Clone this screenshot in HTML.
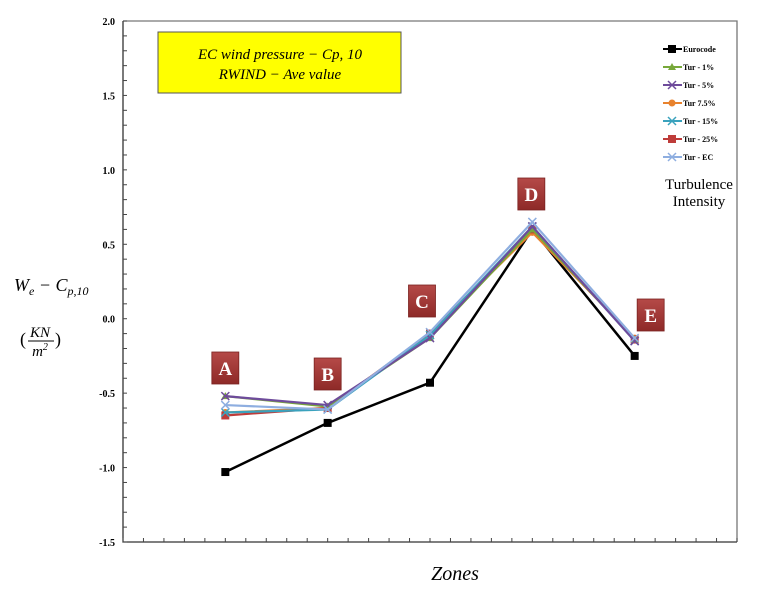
<!DOCTYPE html>
<html><head><meta charset="utf-8"><style>
body{margin:0;background:#fff;width:760px;height:592px;overflow:hidden}
svg text{font-family:"Liberation Serif",serif}
</style></head><body>
<svg id="chart" width="760" height="592" xmlns="http://www.w3.org/2000/svg">
<defs>
<linearGradient id="lg" x1="0" y1="0" x2="0" y2="1"><stop offset="0" stop-color="#b54a48"/><stop offset="1" stop-color="#8e2a28"/></linearGradient>
</defs>
<g id="axes"></g>
<g id="series"></g>
<g id="labels"></g>
<rect x="158" y="32" width="243" height="61" fill="#ffff00" stroke="#555" stroke-width="1"/>
<text x="280" y="59" text-anchor="middle" font-size="15" font-style="italic">EC wind pressure  − Cp, 10</text>
<text x="280" y="79" text-anchor="middle" font-size="15" font-style="italic">RWIND  − Ave value</text>
<g>
<text x="14" y="291" font-size="18" font-style="italic">W<tspan font-size="12" dy="4">e</tspan><tspan dy="-4"> − C</tspan><tspan font-size="12" dy="4">p,10</tspan></text>
<text x="20" y="345" font-size="18">(</text>
<text x="40" y="337" font-size="15" font-style="italic" text-anchor="middle">KN</text>
<line x1="28" y1="341" x2="54" y2="341" stroke="#000" stroke-width="1"/>
<text x="40" y="356" font-size="15" font-style="italic" text-anchor="middle">m<tspan font-size="10" dy="-6">2</tspan></text>
<text x="55" y="345" font-size="18">)</text>
</g>
<text x="455" y="580" text-anchor="middle" font-size="20" font-style="italic">Zones</text>
<g id="legend"></g>
<text x="699" y="189" text-anchor="middle" font-size="15">Turbulence</text>
<text x="699" y="206" text-anchor="middle" font-size="15">Intensity</text>
</svg>
<script>
const zones = ["A","B","C","D","E"];
const yTicks = [2.0,1.5,1.0,0.5,0.0,-0.5,-1.0,-1.5];
const seriesNames = ["Eurocode","Tur - 1%","Tur - 5%","Tur 7.5%","Tur - 15%","Tur - 25%","Tur - EC"];
const eurocode = [-1.03,-0.70,-0.43,0.60,-0.25];
const tur1 = [-0.52,-0.59,-0.13,0.60,-0.14];
const tur5 = [-0.52,-0.58,-0.13,0.62,-0.15];
const tur75 = [-0.63,-0.60,-0.10,0.58,-0.13];
const tur15 = [-0.63,-0.61,-0.11,0.62,-0.15];
const tur25 = [-0.65,-0.60,-0.10,0.60,-0.14];
const turEC = [-0.58,-0.61,-0.09,0.65,-0.13];
const labelOffsets = [1.05,0.83,1.12,0.72,0.95];

const NS="http://www.w3.org/2000/svg";
const X0=123,X1=737,Y0=21,Y1=542,YMIN=-1.5,YMAX=2.0;
const yS=v=>Y1-(v-YMIN)/(YMAX-YMIN)*(Y1-Y0);
const xS=i=>X0+(i+1)*5*(X1-X0)/30;
function el(t,a,p){const e=document.createElementNS(NS,t);for(const k in a)e.setAttribute(k,a[k]);p.appendChild(e);return e;}
const ax=document.getElementById('axes');
let f=el('path',{d:`M${X0} ${Y0}H${X1}V${Y1}`,fill:'none',stroke:'#777','stroke-width':1.3},ax);


let a=el('path',{d:`M${X0} ${Y0}V${Y1}H${X1}`,fill:'none',stroke:'#333','stroke-width':1.3},ax);


for(let v=-15;v<=20;v++){const y=yS(v/10);el('line',{x1:X0,x2:X0+4,y1:y,y2:y,stroke:'#444'},ax);}
for(let i=0;i<=30;i++){const x=X0+i*(X1-X0)/30;el('line',{x1:x,x2:x,y1:Y1,y2:Y1-4,stroke:'#444'},ax);}
yTicks.forEach(v=>{const t=el('text',{x:X0-8,y:yS(v)+4,'text-anchor':'end','font-size':10,'font-weight':'bold'},ax);t.textContent=v.toFixed(1);

});
const colors=["#000","#77a83a","#6e4b9b","#e8822d","#3aa2bd","#be3c3a","#8eaee0"];
const datas=[eurocode,tur1,tur5,tur75,tur15,tur25,turEC];
const order=[0,3,5,1,4,2,6];
const sg=document.getElementById('series');
function marker(k,x,y,g){const c=colors[k];
 if(k===0||k===5)el('rect',{x:x-4,y:y-4,width:8,height:8,fill:c},g);
 else if(k===1)el('path',{d:`M${x} ${y-4}L${x+4} ${y+3}L${x-4} ${y+3}Z`,fill:c},g);
 else if(k===3)el('circle',{cx:x,cy:y,r:3.5,fill:c},g);
 else el('path',{d:`M${x-4} ${y-4}L${x+4} ${y+4}M${x+4} ${y-4}L${x-4} ${y+4}`,stroke:c,'stroke-width':1.5},g);}
order.forEach(k=>{const g=el('g',{},sg);
 
 
 const pts=datas[k].map((v,i)=>xS(i)+','+yS(v)).join(' ');
 el('polyline',{points:pts,fill:'none',stroke:colors[k],'stroke-width':k===0?2.5:2.2},g);
 datas[k].forEach((v,i)=>marker(k,xS(i),yS(v),g));});
const lg=document.getElementById('labels');
zones.forEach((z,i)=>{const y=yS(labelOffsets[i]*0+Math.max(...datas.map(d=>d[i])))-0;const x=xS(i);
 const top=[352,358,285,178,299][i];
 const g=el('g',{},lg);
 
 
 el('rect',{x:x-13.5+(i===4?16:0)-(i===2?8:0)-(i===3?1:0),y:top,width:27,height:32,fill:'url(#lg)',stroke:'#7a2220','stroke-width':0.8},g);
 const t=el('text',{x:x+(i===4?16:0)-(i===2?8:0)-(i===3?1:0),y:top+23,'text-anchor':'middle','font-size':19,'font-weight':'bold',fill:'#fff'},g);t.textContent=z;});
const leg=document.getElementById('legend');
seriesNames.forEach((n,k)=>{const y=49+k*18;const g=el('g',{},leg);
 
 
 el('line',{x1:663,x2:682,y1:y,y2:y,stroke:colors[k],'stroke-width':2},g);
 marker(k,672,y,g);
 const t=el('text',{x:683,y:y+3,'font-size':8,'font-weight':'bold'},g);t.textContent=n;});
</script>
</body></html>
